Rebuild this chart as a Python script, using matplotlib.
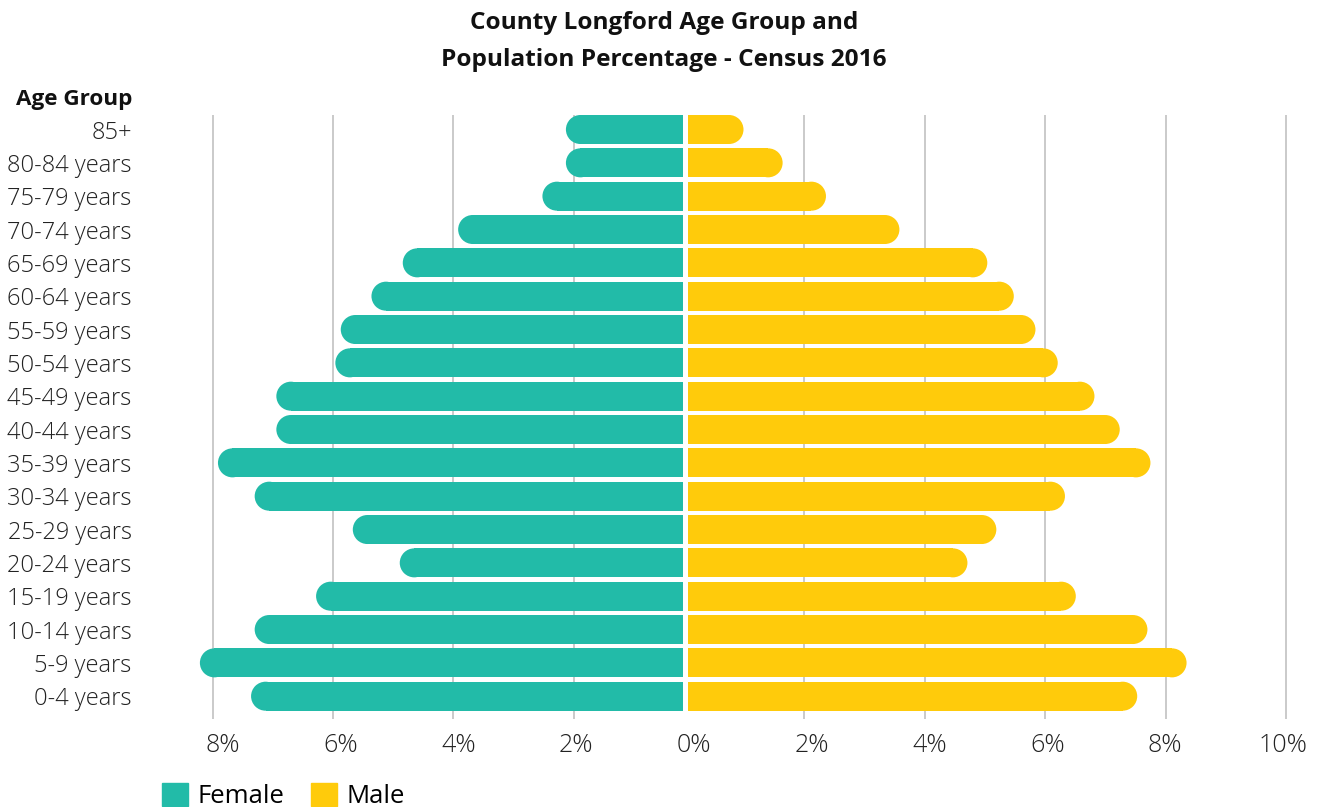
import numpy as np
import matplotlib
matplotlib.use("Agg")
from matplotlib import pyplot as plt
from matplotlib.patches import Ellipse, Patch

plt.rcParams['font.family'] = ['Open Sans', 'DejaVu Sans']

# age groups, youngest first (bottom of the chart)
age_groups = ["0-4 years", "5-9 years", "10-14 years", "15-19 years", "20-24 years",
              "25-29 years", "30-34 years", "35-39 years", "40-44 years", "45-49 years",
              "50-54 years", "55-59 years", "60-64 years", "65-69 years", "70-74 years",
              "75-79 years", "80-84 years", "85+"]
female = [7.36, 8.21, 7.30, 6.28, 4.89, 5.67, 7.30, 7.91, 6.94, 6.94,
          5.96, 5.87, 5.36, 4.84, 3.92, 2.52, 2.13, 2.13]
male = [7.53, 8.35, 7.70, 6.51, 4.71, 5.19, 6.33, 7.75, 7.24, 6.82,
        6.21, 5.84, 5.48, 5.04, 3.58, 2.36, 1.64, 0.99]

left_ticks = [8, 6, 4, 2]
right_ticks = [2, 4, 6, 8, 10]
tick_text = ["8%", "6%", "4%", "2%", "0%", "2%", "4%", "6%", "8%", "10%"]

teal = "#22BBA8"
yellow = "#FFCB0B"
grid_col = "#C6C6C6"

W, H = 1321, 807
fig = plt.figure(figsize=(W / 100, H / 100), dpi=100)

# axes box in pixels
ax_l, ax_r, ax_t, ax_b = 190, 1300, 115, 719
ax = fig.add_axes([ax_l / W, 1 - ax_b / H, (ax_r - ax_l) / W, (ax_b - ax_t) / H])

px_per_unit = 60.2
zero_px = 683.9
xmin = (ax_l - zero_px) / px_per_unit
xmax = (ax_r - zero_px) / px_per_unit
ax.set_xlim(xmin, xmax)
ax.set_ylim(-0.684, 17.435)

# the female side is measured from its own zero, a little right of the male one
f_zero = 0.17
f_inner = -0.02
m_inner = 0.073
bar_h = 0.87
row_px = (ax_b - ax_t) / (17.435 + 0.684)
r_x = (bar_h * row_px / 2) / px_per_unit  # cap radius in x units

for k in left_ticks:
    ax.axvline(f_zero - k, color=grid_col, lw=1.3, zorder=0)
for k in right_ticks:
    ax.axvline(k, color=grid_col, lw=1.3, zorder=0)

y = np.arange(len(age_groups))
for yi, fv, mv in zip(y, female, male):
    f_end = f_zero - fv
    ax.barh(yi, f_inner - (f_end + r_x), left=f_end + r_x, height=bar_h, color=teal, lw=0, zorder=2)
    ax.add_patch(Ellipse((f_end + r_x, yi), 2 * r_x, bar_h, color=teal, lw=0, zorder=2))
    ax.barh(yi, (mv - r_x) - m_inner, left=m_inner, height=bar_h, color=yellow, lw=0, zorder=2)
    ax.add_patch(Ellipse((mv - r_x, yi), 2 * r_x, bar_h, color=yellow, lw=0, zorder=2))

# tick labels sit on an even spacing across the bottom
lab_px = np.linspace(223, 1283, len(tick_text))
ax.set_xticks((lab_px - zero_px) / px_per_unit)
ax.set_xticklabels(tick_text, fontsize=18, color="#222222", fontweight="light")
ax.tick_params(axis="x", length=0, pad=10)

ax.set_yticks(y)
ax.set_yticklabels(age_groups, fontsize=17, color="#222222", fontweight="light")
ax.tick_params(axis="y", length=0, pad=42)

for s in ax.spines.values():
    s.set_visible(False)

fig.text(664 / W, 1 - 23 / H, "County Longford Age Group and", ha="center", va="center",
         fontsize=17.6, fontweight="bold", color="#111111")
fig.text(664 / W, 1 - 60 / H, "Population Percentage - Census 2016", ha="center", va="center",
         fontsize=17.6, fontweight="bold", color="#111111")
fig.text(132 / W, 1 - 100 / H, "Age Group", ha="right", va="center",
         fontsize=16.2, fontweight="bold", color="#111111")

handles = [Patch(color=teal, label="Female"), Patch(color=yellow, label="Male")]
fig.legend(handles=handles, loc="center left", bbox_to_anchor=(162 / W, 1 - 796 / H),
           ncol=2, frameon=False, fontsize=18.5, handlelength=1.02, handleheight=1.02,
           handletextpad=0.35, columnspacing=1.05, borderpad=0, borderaxespad=0)

fig.savefig("out.png", dpi=100)
